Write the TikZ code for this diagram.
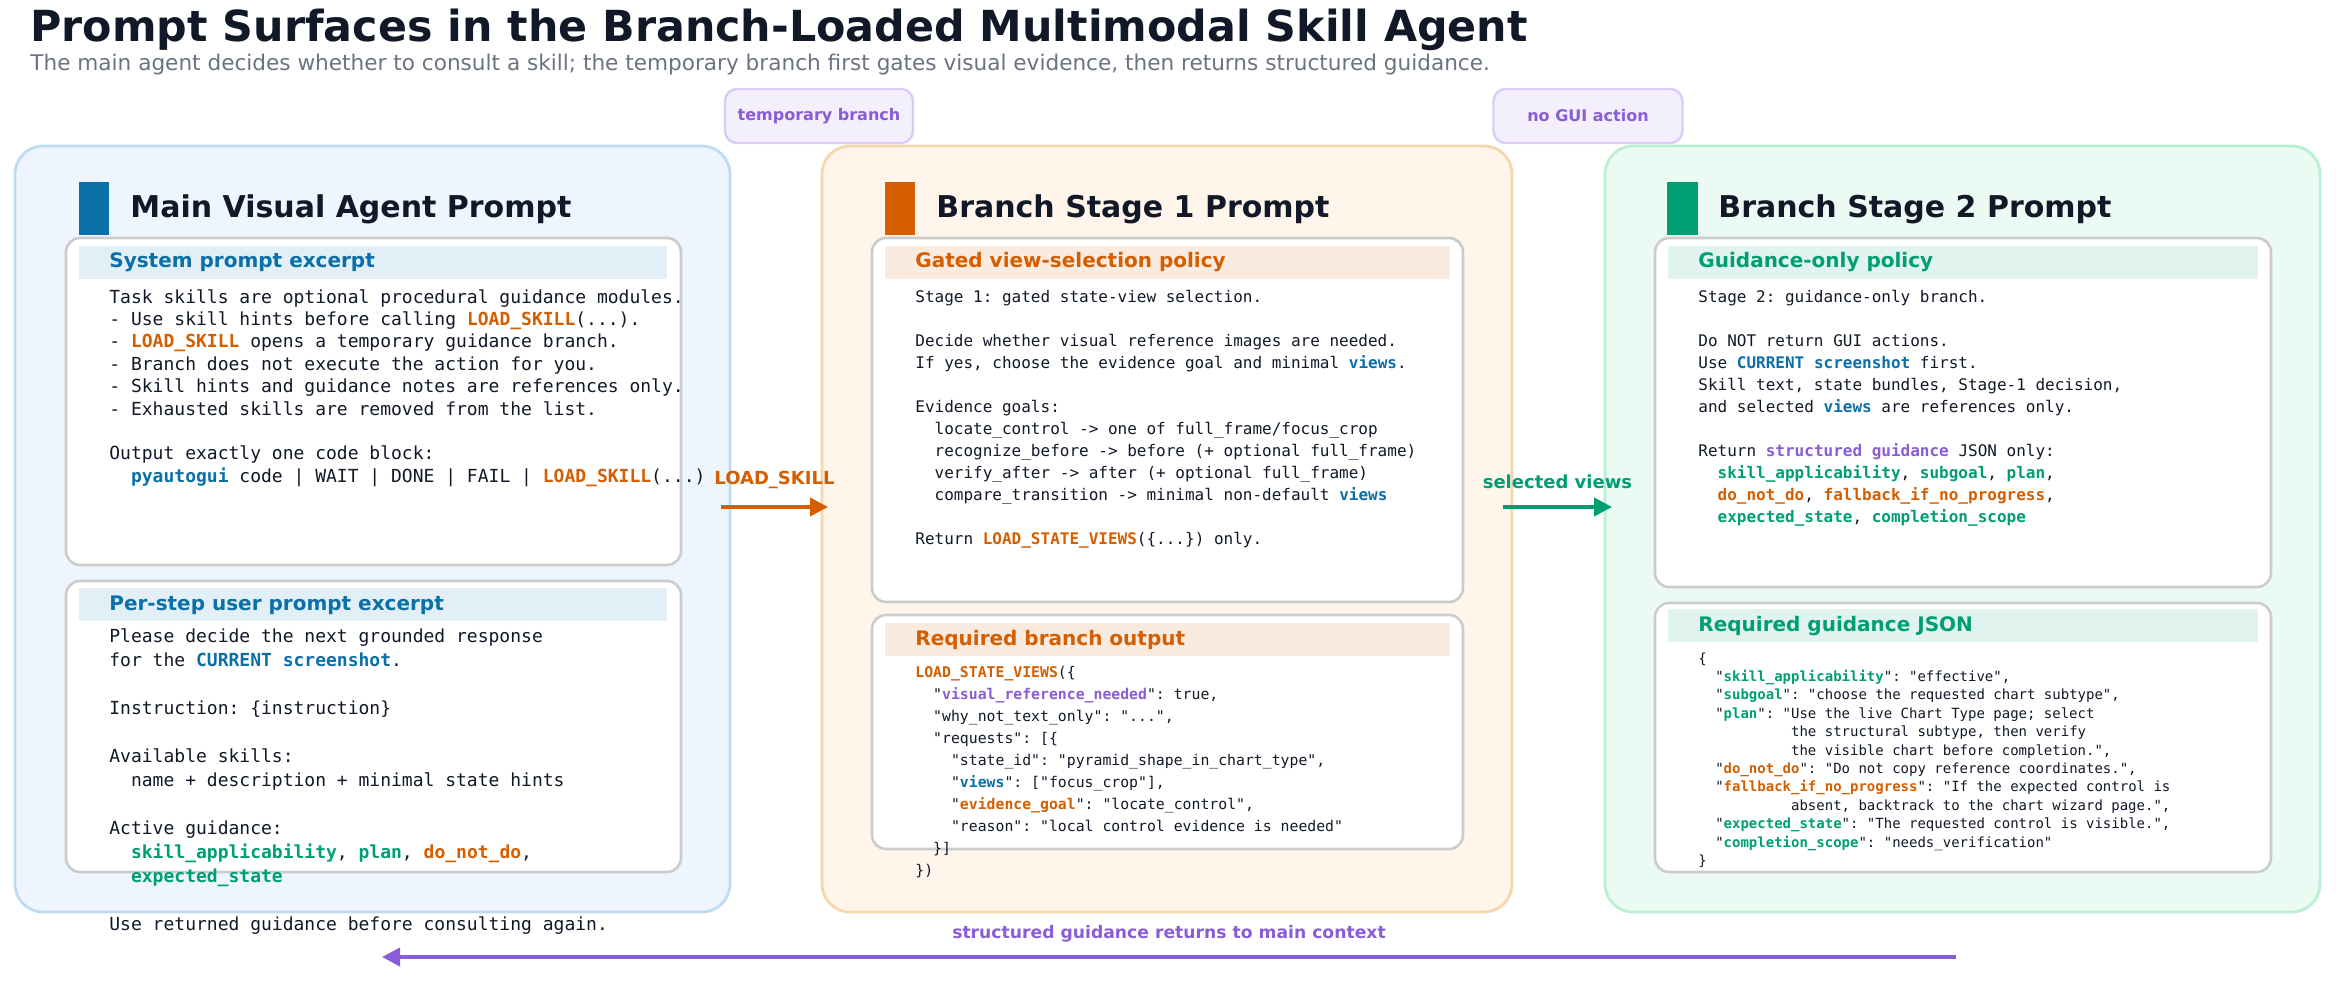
\documentclass[tikz,border=0pt]{standalone}
\usepackage{fontspec}
\setmainfont{DejaVu Sans}
\setsansfont{DejaVu Sans}
\setmonofont{DejaVu Sans Mono}
\usetikzlibrary{arrows.meta,positioning}

\definecolor{ink}{HTML}{111827}
\definecolor{grisT}{HTML}{6B7280}
\definecolor{bleu}{HTML}{0B6FA8}
\definecolor{orange}{HTML}{D55E00}
\definecolor{vert}{HTML}{009E73}
\definecolor{violet}{HTML}{8A5CD6}
\definecolor{fondB}{HTML}{EEF5FE}\definecolor{bordB}{HTML}{BDDCF4}
\definecolor{fondO}{HTML}{FFF5EB}\definecolor{bordO}{HTML}{F8D6AA}
\definecolor{fondV}{HTML}{EBFBF3}\definecolor{bordV}{HTML}{B9EFD2}
\definecolor{barB}{HTML}{E3EFF6}\definecolor{barO}{HTML}{F9EBE0}\definecolor{barV}{HTML}{E1F3EE}
\definecolor{fondT}{HTML}{F3EFFD}\definecolor{bordT}{HTML}{D9CDF5}

\newcommand{\ko}[1]{{\bfseries\color{orange}#1}}
\newcommand{\kb}[1]{{\bfseries\color{bleu}#1}}
\newcommand{\kg}[1]{{\bfseries\color{vert}#1}}
\newcommand{\kp}[1]{{\bfseries\color{violet}#1}}

\begin{document}
\begin{tikzpicture}[x=0.5pt,y=-0.5pt]
 % style des noeuds
  \tikzstyle{panneau}=[rounded corners=14pt,line width=1.4pt]
  \tikzstyle{boite}=[rounded corners=7pt,draw=black!20,line width=1.3pt,fill=white]
  \tikzstyle{titre}=[anchor=west,inner sep=0,font=\bfseries\fontsize{15}{18}\selectfont,text=ink]
  \tikzstyle{section}=[anchor=west,inner sep=0,font=\bfseries\fontsize{10}{12}\selectfont]
  \tikzstyle{code}=[anchor=north west,inner sep=0,align=left,text=ink,font=\ttfamily\fontsize{9}{11.2}\selectfont]
  \tikzstyle{petit}=[code,font=\ttfamily\fontsize{8}{11}\selectfont]
  \tikzstyle{json}=[anchor=north west,inner sep=0,align=left,text=ink,font=\ttfamily\fontsize{7}{9.2}\selectfont]
  \tikzstyle{etiq}=[rounded corners=6pt,draw=bordT,fill=fondT,line width=1.2pt,text=violet,font=\bfseries\fontsize{8}{10}\selectfont]
 % style des fleches
  \tikzstyle{suite}=[line width=2pt,-{Triangle[length=9pt,width=9pt]}]
  \useasboundingbox (0,0) rectangle (2336,983);
 % titres
  \node[anchor=west,inner sep=0,font=\bfseries\fontsize{21.4}{25}\selectfont,text=ink] (titre) at (30,30) {Prompt Surfaces in the Branch-Loaded Multimodal Skill Agent};
  \node[anchor=west,inner sep=0,font=\fontsize{10.8}{13}\selectfont,text=grisT] (soustitre) at (30,65) {The main agent decides whether to consult a skill; the temporary branch first gates visual evidence, then returns structured guidance.};
 % panneaux
  \draw[panneau,fill=fondB,draw=bordB] (15,146) rectangle (730,912);
  \draw[panneau,fill=fondO,draw=bordO] (822,146) rectangle (1512,912);
  \draw[panneau,fill=fondV,draw=bordV] (1605,146) rectangle (2320,912);
  \node[etiq,minimum width=188pt*0.5,minimum height=54pt*0.5] (temp) at (819,116) {temporary branch};
  \node[etiq,minimum width=189pt*0.5,minimum height=54pt*0.5] (nogui) at (1588,116) {no GUI action};
 % en-tetes
  \fill[bleu] (79,182) rectangle (109,235);
  \fill[orange] (885,182) rectangle (915,235);
  \fill[vert] (1667,182) rectangle (1698,235);
  \node[titre] (hmain) at (130,209) {Main Visual Agent Prompt};
  \node[titre] (hun) at (936,209) {Branch Stage 1 Prompt};
  \node[titre] (hdeux) at (1718,209) {Branch Stage 2 Prompt};
 % boites internes
  \draw[boite] (66,238) rectangle (681,565);
  \draw[boite] (66,581) rectangle (681,872);
  \draw[boite] (872,238) rectangle (1463,602);
  \draw[boite] (872,615) rectangle (1463,849);
  \draw[boite] (1655,238) rectangle (2271,587);
  \draw[boite] (1655,603) rectangle (2271,872);
  \fill[barB] (79,246) rectangle (667,279);
  \fill[barB] (79,588) rectangle (667,621);
  \fill[barO] (885,246) rectangle (1450,279);
  \fill[barO] (885,623) rectangle (1450,656);
  \fill[barV] (1668,246) rectangle (2258,279);
  \fill[barV] (1668,609) rectangle (2258,642);
  \node[section,text=bleu] (ssys) at (109,262) {System prompt excerpt};
  \node[section,text=bleu] (suser) at (109,605) {Per-step user prompt excerpt};
  \node[section,text=orange] (sgate) at (915,262) {Gated view-selection policy};
  \node[section,text=orange] (sreq) at (915,640) {Required branch output};
  \node[section,text=vert] (sguid) at (1698,262) {Guidance-only policy};
  \node[section,text=vert] (sjson) at (1698,626) {Required guidance JSON};
 % textes
  \node[code] (tsys) at (109,289) {Task skills are optional procedural guidance modules.\\
- Use skill hints before calling \ko{LOAD\_SKILL}(...).\\
- \ko{LOAD\_SKILL} opens a temporary guidance branch.\\
- Branch does not execute the action for you.\\
- Skill hints and guidance notes are references only.\\
- Exhausted skills are removed from the list.\\
\mbox{}\\
Output exactly one code block:\\
~~\kb{pyautogui} code | WAIT | DONE | FAIL | \ko{LOAD\_SKILL}(...)};
  \node[code,font=\ttfamily\fontsize{9}{12}\selectfont] (tuser) at (109,628) {Please decide the next grounded response\\
for the \kb{CURRENT screenshot}.\\
\mbox{}\\
Instruction: \{instruction\}\\
\mbox{}\\
Available skills:\\
~~name + description + minimal state hints\\
\mbox{}\\
Active guidance:\\
~~\kg{skill\_applicability}, \kg{plan}, \ko{do\_not\_do},\\
~~\kg{expected\_state}\\
\mbox{}\\
Use returned guidance before consulting again.};
  \node[petit] (tgate) at (915,290) {Stage 1: gated state-view selection.\\
\mbox{}\\
Decide whether visual reference images are needed.\\
If yes, choose the evidence goal and minimal \kb{views}.\\
\mbox{}\\
Evidence goals:\\
~~locate\_control -> one of full\_frame/focus\_crop\\
~~recognize\_before -> before (+ optional full\_frame)\\
~~verify\_after -> after (+ optional full\_frame)\\
~~compare\_transition -> minimal non-default \kb{views}\\
\mbox{}\\
Return \ko{LOAD\_STATE\_VIEWS}(\{...\}) only.};
  \node[code,font=\ttfamily\fontsize{7.4}{11}\selectfont] (treq) at (915,666) {\ko{LOAD\_STATE\_VIEWS}(\{\\
~~"\kp{visual\_reference\_needed}": true,\\
~~"why\_not\_text\_only": "...",\\
~~"requests": [\{\\
~~~~"state\_id": "pyramid\_shape\_in\_chart\_type",\\
~~~~"\kb{views}": ["focus\_crop"],\\
~~~~"\ko{evidence\_goal}": "locate\_control",\\
~~~~"reason": "local control evidence is needed"\\
~~\}]\\
\})};
  \node[petit] (tguid) at (1698,290) {Stage 2: guidance-only branch.\\
\mbox{}\\
Do NOT return GUI actions.\\
Use \kb{CURRENT screenshot} first.\\
Skill text, state bundles, Stage-1 decision,\\
and selected \kb{views} are references only.\\
\mbox{}\\
Return \kp{structured guidance} JSON only:\\
~~\kg{skill\_applicability}, \kg{subgoal}, \kg{plan},\\
~~\ko{do\_not\_do}, \ko{fallback\_if\_no\_progress},\\
~~\kg{expected\_state}, \kg{completion\_scope}};
  \node[json] (tjson) at (1698,652) {\{\\
~~"\kg{skill\_applicability}": "effective",\\
~~"\kg{subgoal}": "choose the requested chart subtype",\\
~~"\kg{plan}": "Use the live Chart Type page; select\\
~~~~~~~~~~~the structural subtype, then verify\\
~~~~~~~~~~~the visible chart before completion.",\\
~~"\ko{do\_not\_do}": "Do not copy reference coordinates.",\\
~~"\ko{fallback\_if\_no\_progress}": "If the expected control is\\
~~~~~~~~~~~absent, backtrack to the chart wizard page.",\\
~~"\kg{expected\_state}": "The requested control is visible.",\\
~~"\kg{completion\_scope}": "needs\_verification"\\
\}};
 % fleches
  \coordinate (a1) at (721,507); \coordinate (a2) at (828,507);
  \coordinate (b1) at (1503,507); \coordinate (b2) at (1612,507);
  \coordinate (c1) at (1956,957); \coordinate (c2) at (382,957);
  \draw[suite,orange] (a1) -- (a2) node[midway,above=5pt,font=\bfseries\fontsize{9}{11}\selectfont] (lskill) {LOAD\_SKILL};
  \draw[suite,vert] (b1) -- (b2) node[midway,above=5pt,font=\bfseries\fontsize{9}{11}\selectfont] (lviews) {selected views};
  \draw[suite,violet] (c1) -- (c2) node[pos=0.5,above=3pt,font=\bfseries\fontsize{8.6}{10}\selectfont] (lretour) {structured guidance returns to main context};
\end{tikzpicture}
\end{document}
